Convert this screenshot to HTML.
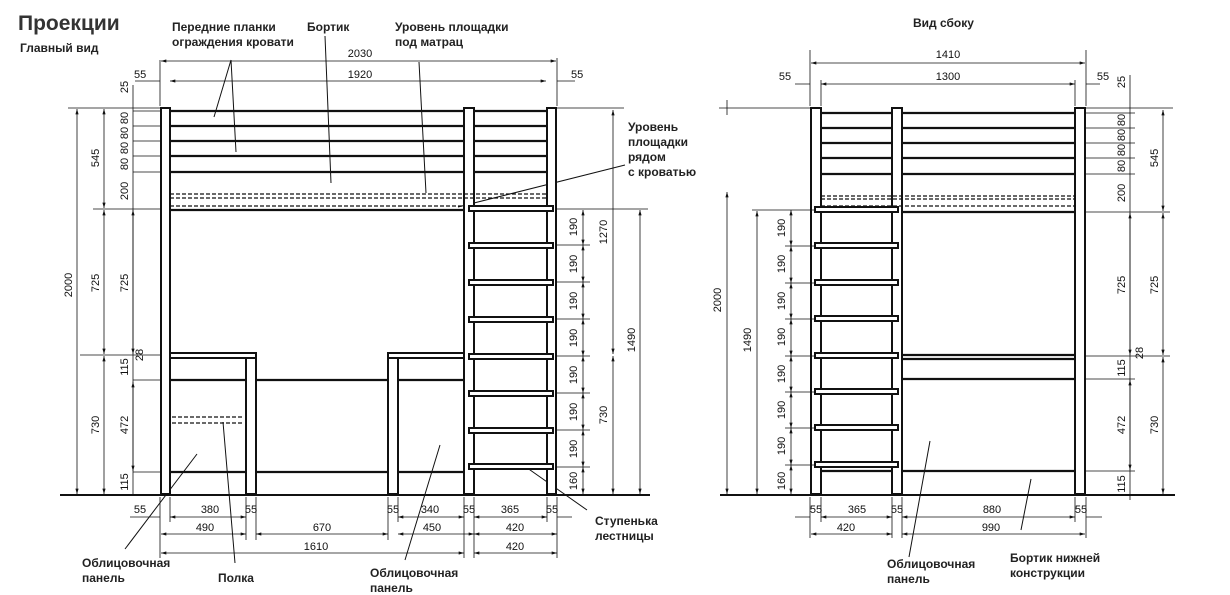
<!DOCTYPE html>
<html><head><meta charset="utf-8"><style>
html,body{margin:0;padding:0;background:#fff;}
svg{display:block;}
.l{font-family:"Liberation Sans Narrow","Liberation Sans","Noto Sans CJK SC",sans-serif;font-weight:bold;font-size:12px;fill:#222;}
.d{font-family:"Liberation Sans",sans-serif;font-size:11px;fill:#111;}
</style></head><body>
<svg width="1230" height="595" viewBox="0 0 1230 595" xmlns="http://www.w3.org/2000/svg">
<defs>
<marker id="a" viewBox="0 0 10 6" refX="10" refY="3" markerWidth="7" markerHeight="4" orient="auto-start-reverse"><path d="M0,0L10,3L0,6z" fill="#111"/></marker>
</defs>
<text x="18" y="30" class="l" style="font-size:21px;fill:#333">Проекции</text>
<text x="20" y="52" class="l">Главный вид</text>
<text x="172" y="31" class="l">Передние планки</text>
<text x="172" y="46" class="l">ограждения кровати</text>
<text x="307" y="31" class="l">Бортик</text>
<text x="395" y="31" class="l">Уровень площадки</text>
<text x="395" y="46" class="l">под матрац</text>
<text x="628" y="131" class="l">Уровень</text>
<text x="628" y="146" class="l">площадки</text>
<text x="628" y="161" class="l">рядом</text>
<text x="628" y="176" class="l">с кроватью</text>
<text x="595" y="525" class="l">Ступенька</text>
<text x="595" y="540" class="l">лестницы</text>
<text x="82" y="567" class="l">Облицовочная</text>
<text x="82" y="582" class="l">панель</text>
<text x="218" y="582" class="l">Полка</text>
<text x="370" y="577" class="l">Облицовочная</text>
<text x="370" y="592" class="l">панель</text>
<text x="913" y="27" class="l">Вид сбоку</text>
<text x="887" y="568" class="l">Облицовочная</text>
<text x="887" y="583" class="l">панель</text>
<text x="1010" y="562" class="l">Бортик нижней</text>
<text x="1010" y="577" class="l">конструкции</text>

<g stroke="#111" fill="none" stroke-width="1">
<!-- leaders -->
<path d="M214,117L231,60M236,152L231,60M331,183L325,36M426,193L419,62M458,207L625,165M523,465L587,510M197,454L125,549M223,422L235,563M440,445L405,560M930,441L909,557M1031,479L1021,530"/>
</g>

<!-- FRONT VIEW structure -->
<g stroke="#111" fill="#fff" stroke-width="2">
<rect x="161" y="108" width="9" height="386"/>
<rect x="464" y="108" width="10" height="386"/>
<rect x="547" y="108" width="9" height="386"/>
<rect x="246" y="358" width="10" height="136"/>
<rect x="388" y="358" width="10" height="136"/>
<rect x="170" y="353" width="86" height="5"/>
<rect x="388" y="353" width="76" height="5"/>
</g>
<g stroke="#111" stroke-width="2.2">
<path d="M170,111H464M474,111H547M170,126H464M474,126H547M170,141H464M474,141H547M170,156H464M474,156H547M170,172H464M474,172H547M170,210H464"/>
<path d="M170,380H246M256,380H388M398,380H464M170,472H246M256,472H388M398,472H464"/>
<path d="M60,495H650" stroke-width="2"/>
</g>
<g stroke="#111" stroke-width="1.2" stroke-dasharray="4,2">
<path d="M170,194H547M170,198H547M170,206H464M172,417H244M172,423H244"/>
</g>
<g stroke="#111" fill="#fff" stroke-width="2">
<rect x="469" y="206" width="84" height="5"/>
<rect x="469" y="243" width="84" height="5"/>
<rect x="469" y="280" width="84" height="5"/>
<rect x="469" y="317" width="84" height="5"/>
<rect x="469" y="354" width="84" height="5"/>
<rect x="469" y="391" width="84" height="5"/>
<rect x="469" y="428" width="84" height="5"/>
<rect x="469" y="464" width="84" height="5"/>
</g>

<!-- front dimensions -->
<g stroke="#111" stroke-width="0.8" fill="none">
<path d="M68,108H160M556,108H624M93,209H160M556,209H648M80,355H160M160,60V106M557,58V106M133,111H160M133,126H160M133,141H160M133,156H160M133,172H160M133,380H160M133,472H160M556,245H590M556,282H590M556,319H590M556,356H590M556,393H590M556,430H590M556,467H590"/>
<path d="M160,497V558M170,497V522M246,497V540M256,497V540M388,497V540M398,497V522M464,497V558M474,497V558M547,497V522M557,497V558"/>
</g>
<g stroke="#111" stroke-width="0.8" marker-start="url(#a)" marker-end="url(#a)">
<line x1="161" y1="61" x2="556" y2="61"/>
<line x1="170" y1="81" x2="546" y2="81"/>
<line x1="77" y1="109" x2="77" y2="494"/>
<line x1="104" y1="109" x2="104" y2="208"/>
<line x1="104" y1="210" x2="104" y2="354"/>
<line x1="104" y1="356" x2="104" y2="494"/>
<line x1="133" y1="210" x2="133" y2="354"/>
<line x1="133" y1="382" x2="133" y2="471"/>
<line x1="583" y1="210" x2="583" y2="245"/>
<line x1="583" y1="245" x2="583" y2="282"/>
<line x1="583" y1="282" x2="583" y2="319"/>
<line x1="583" y1="319" x2="583" y2="356"/>
<line x1="583" y1="356" x2="583" y2="393"/>
<line x1="583" y1="393" x2="583" y2="430"/>
<line x1="583" y1="430" x2="583" y2="467"/>
<line x1="583" y1="467" x2="583" y2="494"/>
<line x1="613" y1="110" x2="613" y2="354"/>
<line x1="613" y1="356" x2="613" y2="494"/>
<line x1="640" y1="210" x2="640" y2="494"/>
<line x1="170" y1="517" x2="246" y2="517"/>
<line x1="398" y1="517" x2="464" y2="517"/>
<line x1="474" y1="517" x2="547" y2="517"/>
<line x1="161" y1="534" x2="246" y2="534"/>
<line x1="256" y1="534" x2="388" y2="534"/>
<line x1="398" y1="534" x2="474" y2="534"/>
<line x1="474" y1="534" x2="557" y2="534"/>
<line x1="161" y1="553" x2="464" y2="553"/>
<line x1="474" y1="553" x2="557" y2="553"/>
</g>
<g stroke="#111" stroke-width="0.8"><path d="M133,85V494M135,81H160M557,81H575M130,517H160M557,517H572"/></g>

<g class="d">
<text x="360" y="57" text-anchor="middle">2030</text>
<text x="360" y="78" text-anchor="middle">1920</text>
<text x="134" y="78">55</text>
<text x="571" y="78">55</text>
<text x="140" y="513" text-anchor="middle">55</text>
<text x="210" y="513" text-anchor="middle">380</text>
<text x="251" y="513" text-anchor="middle">55</text>
<text x="393" y="513" text-anchor="middle">55</text>
<text x="430" y="513" text-anchor="middle">340</text>
<text x="469" y="513" text-anchor="middle">55</text>
<text x="510" y="513" text-anchor="middle">365</text>
<text x="552" y="513" text-anchor="middle">55</text>
<text x="205" y="531" text-anchor="middle">490</text>
<text x="322" y="531" text-anchor="middle">670</text>
<text x="432" y="531" text-anchor="middle">450</text>
<text x="515" y="531" text-anchor="middle">420</text>
<text x="316" y="550" text-anchor="middle">1610</text>
<text x="515" y="550" text-anchor="middle">420</text>
</g>
<g class="d" text-anchor="middle">
<text transform="translate(72,285) rotate(-90)">2000</text>
<text transform="translate(99,158) rotate(-90)">545</text>
<text transform="translate(99,283) rotate(-90)">725</text>
<text transform="translate(99,425) rotate(-90)">730</text>
<text transform="translate(128,87) rotate(-90)">25</text>
<text transform="translate(128,118) rotate(-90)">80</text>
<text transform="translate(128,133) rotate(-90)">80</text>
<text transform="translate(128,148) rotate(-90)">80</text>
<text transform="translate(128,164) rotate(-90)">80</text>
<text transform="translate(128,191) rotate(-90)">200</text>
<text transform="translate(128,283) rotate(-90)">725</text>
<text transform="translate(143,355) rotate(-90)">28</text>
<text transform="translate(128,367) rotate(-90)">115</text>
<text transform="translate(128,425) rotate(-90)">472</text>
<text transform="translate(128,482) rotate(-90)">115</text>
<text transform="translate(577,227) rotate(-90)">190</text>
<text transform="translate(577,264) rotate(-90)">190</text>
<text transform="translate(577,301) rotate(-90)">190</text>
<text transform="translate(577,338) rotate(-90)">190</text>
<text transform="translate(577,375) rotate(-90)">190</text>
<text transform="translate(577,412) rotate(-90)">190</text>
<text transform="translate(577,449) rotate(-90)">190</text>
<text transform="translate(577,481) rotate(-90)">160</text>
<text transform="translate(607,232) rotate(-90)">1270</text>
<text transform="translate(607,415) rotate(-90)">730</text>
<text transform="translate(635,340) rotate(-90)">1490</text>
</g>

<!-- SIDE VIEW -->
<g stroke="#111" fill="#fff" stroke-width="2">
<rect x="811" y="108" width="10" height="386"/>
<rect x="892" y="108" width="10" height="386"/>
<rect x="1075" y="108" width="10" height="386"/>
</g>
<g stroke="#111" stroke-width="2.2">
<path d="M821,113H892M902,113H1075M821,128H892M902,128H1075M821,143H892M902,143H1075M821,158H892M902,158H1075M821,174H892M902,174H1075M902,212H1075"/>
<path d="M902,355H1075M902,359H1075M902,379H1075M902,471H1075M821,471H892"/>
<path d="M720,495H1175" stroke-width="2"/>
</g>
<g stroke="#111" stroke-width="1.2" stroke-dasharray="4,2">
<path d="M821,196H1075M821,199H1075M821,206H1075"/>
</g>
<g stroke="#111" fill="#fff" stroke-width="2">
<rect x="815" y="207" width="83" height="5"/>
<rect x="815" y="243" width="83" height="5"/>
<rect x="815" y="280" width="83" height="5"/>
<rect x="815" y="316" width="83" height="5"/>
<rect x="815" y="353" width="83" height="5"/>
<rect x="815" y="389" width="83" height="5"/>
<rect x="815" y="425" width="83" height="5"/>
<rect x="815" y="462" width="83" height="5"/>
</g>
<g stroke="#111" stroke-width="0.8" fill="none">
<path d="M719,108H810M1086,108H1173M1086,212H1170M752,210H814M1086,356H1170M1086,379H1135M1086,471H1135M1086,113H1135M1086,128H1135M1086,143H1135M1086,158H1135M1086,174H1135M785,246H815M785,283H815M785,319H815M785,356H815M785,392H815M785,428H815M785,465H815"/>
<path d="M810,50V106M1086,50V106M821,80V106M1075,80V106M810,497V538M821,497V522M892,497V538M902,497V538M1075,497V522M1086,497V538"/>
</g>
<g stroke="#111" stroke-width="0.8" marker-start="url(#a)" marker-end="url(#a)">
<line x1="811" y1="63" x2="1085" y2="63"/>
<line x1="821" y1="84" x2="1075" y2="84"/>
<line x1="727" y1="192" x2="727" y2="494"/>
<line x1="757" y1="211" x2="757" y2="494"/>
<line x1="791" y1="210" x2="791" y2="246"/>
<line x1="791" y1="246" x2="791" y2="283"/>
<line x1="791" y1="283" x2="791" y2="319"/>
<line x1="791" y1="319" x2="791" y2="356"/>
<line x1="791" y1="356" x2="791" y2="392"/>
<line x1="791" y1="392" x2="791" y2="428"/>
<line x1="791" y1="428" x2="791" y2="465"/>
<line x1="791" y1="465" x2="791" y2="494"/>
<line x1="1130" y1="213" x2="1130" y2="355"/>
<line x1="1130" y1="380" x2="1130" y2="470"/>
<line x1="1163" y1="110" x2="1163" y2="211"/>
<line x1="1163" y1="213" x2="1163" y2="355"/>
<line x1="1163" y1="357" x2="1163" y2="494"/>
<line x1="821" y1="517" x2="892" y2="517"/>
<line x1="902" y1="517" x2="1075" y2="517"/>
<line x1="811" y1="534" x2="892" y2="534"/>
<line x1="902" y1="534" x2="1085" y2="534"/>
</g>
<g stroke="#111" stroke-width="0.8"><path d="M727,100V115M1130,75V500M795,84H810M1086,84H1100M795,517H810M1086,517H1102"/></g>
<g class="d" text-anchor="middle">
<text x="948" y="58">1410</text>
<text x="948" y="80">1300</text>
<text x="785" y="80">55</text>
<text x="1103" y="80">55</text>
<text x="816" y="513">55</text>
<text x="857" y="513">365</text>
<text x="897" y="513">55</text>
<text x="992" y="513">880</text>
<text x="1081" y="513">55</text>
<text x="846" y="531">420</text>
<text x="991" y="531">990</text>
<text transform="translate(721,300) rotate(-90)">2000</text>
<text transform="translate(751,340) rotate(-90)">1490</text>
<text transform="translate(785,228) rotate(-90)">190</text>
<text transform="translate(785,264) rotate(-90)">190</text>
<text transform="translate(785,301) rotate(-90)">190</text>
<text transform="translate(785,337) rotate(-90)">190</text>
<text transform="translate(785,374) rotate(-90)">190</text>
<text transform="translate(785,410) rotate(-90)">190</text>
<text transform="translate(785,446) rotate(-90)">190</text>
<text transform="translate(785,481) rotate(-90)">160</text>
<text transform="translate(1125,82) rotate(-90)">25</text>
<text transform="translate(1125,120) rotate(-90)">80</text>
<text transform="translate(1125,135) rotate(-90)">80</text>
<text transform="translate(1125,150) rotate(-90)">80</text>
<text transform="translate(1125,166) rotate(-90)">80</text>
<text transform="translate(1125,193) rotate(-90)">200</text>
<text transform="translate(1125,285) rotate(-90)">725</text>
<text transform="translate(1143,353) rotate(-90)">28</text>
<text transform="translate(1125,368) rotate(-90)">115</text>
<text transform="translate(1125,425) rotate(-90)">472</text>
<text transform="translate(1125,484) rotate(-90)">115</text>
<text transform="translate(1158,158) rotate(-90)">545</text>
<text transform="translate(1158,285) rotate(-90)">725</text>
<text transform="translate(1158,425) rotate(-90)">730</text>
</g>
</svg>
</body></html>
